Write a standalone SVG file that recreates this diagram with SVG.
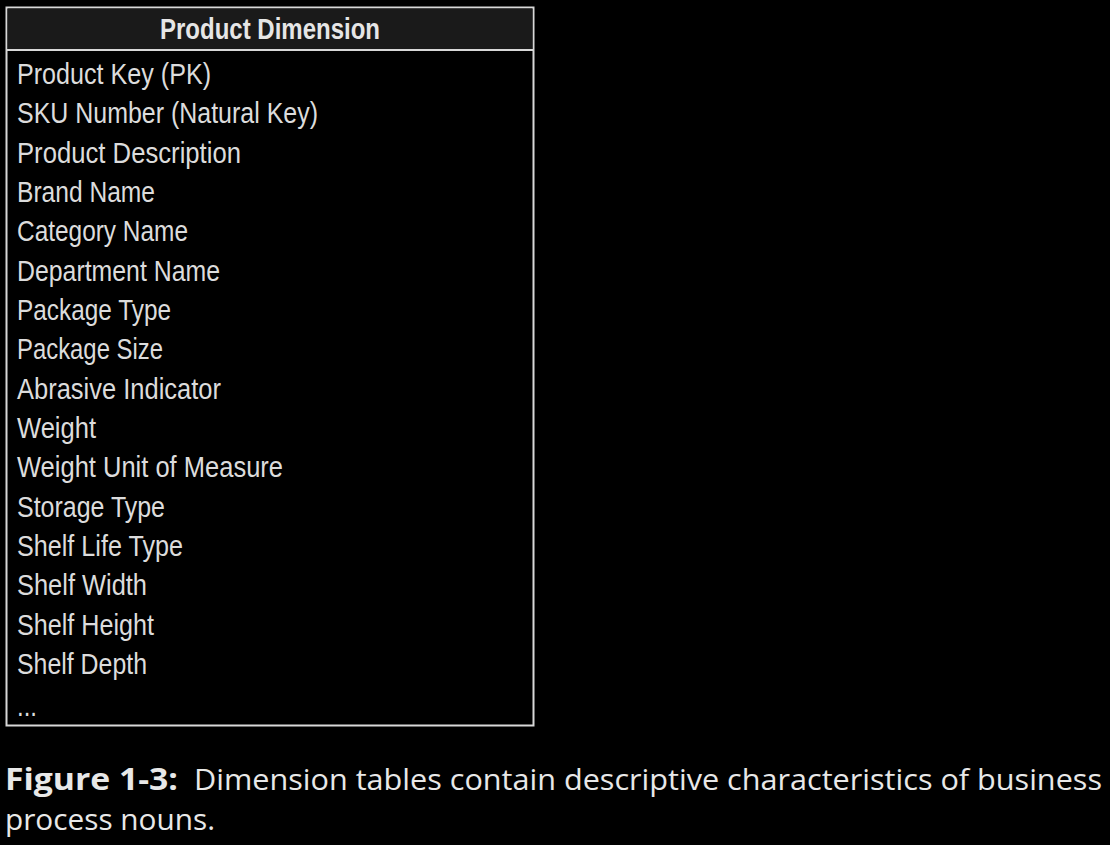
<svg xmlns="http://www.w3.org/2000/svg" width="1110" height="845" viewBox="0 0 1110 845">
  <style>
    .row { font-family: "Liberation Sans", Arial, sans-serif; font-size: 29px; fill: #dcdcdc; }
    .head { font-family: "Liberation Sans", Arial, sans-serif; font-size: 29px; font-weight: bold; fill: #e6e6e6; }
    .cap { font-family: "Open Sans", "Liberation Sans", sans-serif; font-size: 30px; fill: #e8e8e8; }
    .capb { font-family: "Open Sans", "Liberation Sans", sans-serif; font-size: 30px; font-weight: bold; fill: #e8e8e8; }
  </style>
  <rect width="1110" height="845" fill="#000"/>
  <g id="product-dimension">
    <rect x="6.5" y="7.5" width="527" height="718" fill="#000" stroke="#d8d8d8" stroke-width="2"/>
    <rect x="7.5" y="8.5" width="525" height="41" fill="#1a1a1a"/>
    <line x1="6.5" y1="50" x2="533.5" y2="50" stroke="#d8d8d8" stroke-width="2"/>
    <text class="head" x="270" y="39" text-anchor="middle" textLength="220" lengthAdjust="spacingAndGlyphs">Product Dimension</text>
    <text class="row" x="17" y="84" textLength="194" lengthAdjust="spacingAndGlyphs">Product Key (PK)</text>
    <text class="row" x="17" y="123" textLength="301" lengthAdjust="spacingAndGlyphs">SKU Number (Natural Key)</text>
    <text class="row" x="17" y="163" textLength="224" lengthAdjust="spacingAndGlyphs">Product Description</text>
    <text class="row" x="17" y="202" textLength="138" lengthAdjust="spacingAndGlyphs">Brand Name</text>
    <text class="row" x="17" y="241" textLength="171" lengthAdjust="spacingAndGlyphs">Category Name</text>
    <text class="row" x="17" y="281" textLength="203" lengthAdjust="spacingAndGlyphs">Department Name</text>
    <text class="row" x="17" y="320" textLength="154" lengthAdjust="spacingAndGlyphs">Package Type</text>
    <text class="row" x="17" y="359" textLength="146" lengthAdjust="spacingAndGlyphs">Package Size</text>
    <text class="row" x="17" y="399" textLength="204" lengthAdjust="spacingAndGlyphs">Abrasive Indicator</text>
    <text class="row" x="17" y="438" textLength="79" lengthAdjust="spacingAndGlyphs">Weight</text>
    <text class="row" x="17" y="477" textLength="266" lengthAdjust="spacingAndGlyphs">Weight Unit of Measure</text>
    <text class="row" x="17" y="517" textLength="148" lengthAdjust="spacingAndGlyphs">Storage Type</text>
    <text class="row" x="17" y="556" textLength="166" lengthAdjust="spacingAndGlyphs">Shelf Life Type</text>
    <text class="row" x="17" y="595" textLength="130" lengthAdjust="spacingAndGlyphs">Shelf Width</text>
    <text class="row" x="17" y="635" textLength="137" lengthAdjust="spacingAndGlyphs">Shelf Height</text>
    <text class="row" x="17" y="674" textLength="130" lengthAdjust="spacingAndGlyphs">Shelf Depth</text>
    <text class="row" x="17" y="716" textLength="20" lengthAdjust="spacingAndGlyphs">...</text>
  </g>
  <g id="caption">
    <text class="capb" x="5" y="790" textLength="173" lengthAdjust="spacingAndGlyphs">Figure 1-3:</text>
    <text class="cap" x="194" y="790" textLength="908" lengthAdjust="spacingAndGlyphs">Dimension tables contain descriptive characteristics of business</text>
    <text class="cap" x="5" y="830" textLength="210" lengthAdjust="spacingAndGlyphs">process nouns.</text>
  </g>
</svg>
